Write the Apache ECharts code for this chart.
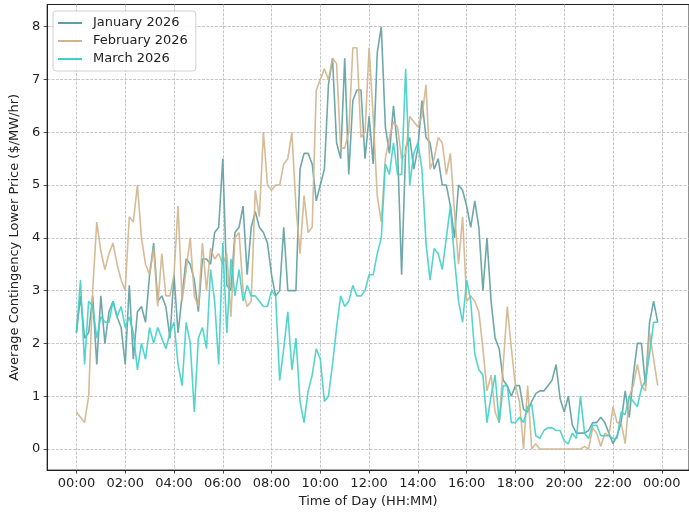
<!DOCTYPE html>
<html lang="en">

<head>
  <meta charset="UTF-8">
  <title>Average Contingency Lower Price</title>
  <style>
    html, body { margin: 0; padding: 0; background: #fff; }
    #chart { width: 689px; height: 513px; }
  </style>
</head>

<body>
  <div id="chart"></div>
  <script src="https://cdn.jsdelivr.net/npm/echarts@6/dist/echarts.min.js"></script>
  <script>
    // 10 minute steps from 00:00
    var stepMinutes = 10;

    var janValues = [
      2.2, 2.9, 2.1, 2.2, 2.9, 1.6, 2.9, 2.0, 2.6, 2.8,
      2.5, 2.3, 1.6, 3.1, 1.7, 2.6, 2.7, 2.4, 3.3, 3.9,
      2.8, 2.9, 2.7, 2.1, 3.3, 2.2, 2.9, 3.6, 3.5, 3.2,
      2.6, 3.6, 3.6, 3.5, 4.1, 4.2, 5.5, 3.1, 3.0, 4.1,
      4.2, 4.6, 3.3, 4.2, 4.5, 4.2, 4.1, 3.9, 3.3, 2.9,
      3.0, 4.2, 3.0, 3.0, 3.0, 5.3, 5.6, 5.6, 5.4, 4.7,
      5.0, 5.3, 6.9, 7.4, 5.8, 5.5, 7.4, 5.2, 6.6, 6.8,
      6.8, 5.5, 6.3, 5.4, 7.5, 8.0, 6.1, 5.6, 6.5, 5.7,
      3.3, 5.7, 5.9, 5.3, 5.7, 6.6, 5.9, 5.8, 5.3, 5.5,
      5.0, 5.0, 4.6, 4.0, 5.0, 4.9, 4.6, 4.2, 4.7, 4.2,
      3.0, 4.0, 2.8, 2.1, 1.9, 1.3, 1.2, 1.0, 1.2, 1.2,
      0.75, 0.7, 0.9, 1.05, 1.1, 1.1, 1.2, 1.3, 1.6, 0.95,
      0.7, 1.0, 0.45, 0.3, 0.3, 0.3, 0.35, 0.5, 0.5, 0.6,
      0.5, 0.3, 0.1, 0.25, 0.5, 1.1, 0.6, 1.4, 2.0, 2.0,
      1.2, 2.4, 2.8, 2.4
    ];

    var febValues = [
      0.7, 0.6, 0.5, 1.0, 3.0, 4.3, 3.75, 3.4, 3.7, 3.9,
      3.5, 3.2, 3.0, 4.4, 4.3, 5.0, 4.0, 3.5, 3.3, 3.8,
      2.7, 3.7, 2.9, 2.9, 3.3, 4.6, 2.8, 3.4, 4.0, 2.9,
      2.7, 3.9, 3.0, 3.8, 3.6, 3.7, 3.5, 3.7, 2.5, 4.0,
      4.1, 3.0, 2.7, 2.8, 4.9, 4.4, 6.0, 5.0, 4.9, 5.0,
      5.0, 5.4, 5.5, 6.0, 4.6, 3.7, 4.8, 4.1, 4.2, 6.8,
      7.0, 7.2, 7.0, 7.4, 7.3, 5.7, 5.7, 6.0, 7.6, 7.6,
      5.9, 6.0, 7.6, 6.3, 4.8, 4.3, 5.5, 5.9, 6.2, 6.1,
      5.5, 5.6, 6.3, 6.2, 6.1, 6.3, 6.9, 5.3, 5.5, 5.9,
      5.8, 5.2, 5.6, 4.5, 3.5, 4.4, 2.8, 2.9, 2.8, 2.6,
      1.9, 1.1, 1.4, 0.7, 0.5, 1.6, 2.7, 1.9, 1.2, 0.9,
      0.0, 1.2, 0.0, 0.1, 0.0, 0.0, 0.0, 0.0, 0.0, 0.0,
      0.0, 0.0, 0.0, 0.0, 0.0, 0.05, 0.0, 0.4, 0.3, 0.05,
      0.3, 0.25, 0.8, 0.5, 0.5, 0.1, 1.0, 1.2, 1.6, 1.2,
      1.1, 2.2, 1.7, 1.2
    ];

    var marValues = [
      2.2, 3.2, 1.6, 2.8, 2.7, 2.1, 2.5, 2.4, 2.4, 2.8,
      2.5, 2.7, 2.3, 2.5, 2.2, 1.5, 2.0, 1.7, 2.3, 2.0,
      2.3, 2.1, 1.9, 2.2, 2.4, 1.6, 1.2, 2.4, 2.0, 0.7,
      2.1, 2.3, 1.9, 3.4, 2.8, 1.6, 3.9, 2.2, 3.6, 2.9,
      3.4, 2.8, 3.1, 2.9, 2.9, 2.8, 2.7, 2.7, 3.0, 2.9,
      1.3, 1.9, 2.6, 1.5, 2.1, 0.9, 0.5, 1.1, 1.4, 1.9,
      1.7, 0.9, 1.0, 1.6, 2.3, 2.9, 2.7, 2.8, 3.1, 2.9,
      2.9, 3.0, 3.3, 3.3, 3.7, 4.0, 5.4, 5.2, 5.8, 5.2,
      5.2, 7.2, 5.0, 5.6, 5.8, 5.3, 3.9, 3.2, 3.8, 3.7,
      3.4, 4.0, 4.6, 3.6, 2.8, 2.4, 3.2, 2.8, 1.8, 1.5,
      1.4, 0.5, 1.0, 1.4, 0.5, 1.2, 1.2, 0.5, 0.5, 0.6,
      0.5, 0.8, 0.85, 0.25, 0.2, 0.35, 0.4, 0.4, 0.35, 0.35,
      0.15, 0.1, 0.3, 0.2, 1.0, 0.3, 0.2, 0.45, 0.45, 0.25,
      0.25, 0.25, 0.2, 0.2, 0.7, 0.65, 1.0, 0.9, 0.8, 1.15,
      1.3, 1.8, 2.4, 2.4
    ];

    var seriesNames = ['January 2026', 'February 2026', 'March 2026'];
    var seriesColors = ['#5f9ea0', '#d2b48c', '#40d0c8'];

    var xTicks = [0, 120, 240, 360, 480, 600, 720, 840, 960, 1080, 1200, 1320, 1440];
    var yTicks = [0, 1, 2, 3, 4, 5, 6, 7, 8];

    function toPairs(values) {
      return values.map(function (v, i) {
        return [i * stepMinutes, v];
      });
    }

    function hhmm(m) {
      var h = Math.floor(m / 60) % 24;
      var mm = m % 60;
      return (h < 10 ? '0' : '') + h + ':' + (mm < 10 ? '0' : '') + mm;
    }

    var myChart = echarts.init(document.getElementById('chart'), null, { renderer: 'canvas' });

    var font = 'DejaVu Sans';
    var gridLine = {
      show: true,
      lineStyle: { color: '#b8b8b8', width: 0.8, type: [3, 1.3] }
    };

    var allValues = [janValues, febValues, marValues];

    var option = {
      backgroundColor: '#fff',
      animation: false,
      textStyle: { fontFamily: font },
      grid: {
        left: 47,
        right: -6,
        top: 4.5,
        bottom: 42,
        show: true,
        borderColor: '#222',
        borderWidth: 1
      },
      legend: {
        orient: 'vertical',
        left: 53,
        top: 11,
        padding: [5, 8, 5, 5],
        itemGap: 4,
        itemWidth: 24,
        itemHeight: 2,
        icon: 'rect',
        backgroundColor: 'rgba(255,255,255,0.85)',
        borderColor: '#d0d0d0',
        borderWidth: 1,
        borderRadius: 3,
        textStyle: {
          fontFamily: font,
          fontSize: 13,
          color: '#222',
          lineHeight: 14,
          padding: [0, 0, 0, 6]
        },
        data: seriesNames
      },
      xAxis: {
        type: 'value',
        min: -72,
        max: 1507,
        name: 'Time of Day (HH:MM)',
        nameLocation: 'middle',
        nameGap: 22,
        nameTextStyle: { fontFamily: font, fontSize: 13, color: '#222' },
        axisLine: { show: true, onZero: false, lineStyle: { color: '#222', width: 1 } },
        axisTick: {
          show: true,
          length: 3.5,
          customValues: xTicks,
          lineStyle: { color: '#222', width: 0.8 }
        },
        axisLabel: {
          customValues: xTicks,
          margin: 7,
          fontFamily: font,
          fontSize: 13,
          color: '#222',
          formatter: function (v) { return hhmm(v); }
        },
        splitLine: gridLine
      },
      yAxis: {
        type: 'value',
        min: -0.4,
        max: 8.42,
        name: 'Average Contingency Lower Price ($/MW/hr)',
        nameLocation: 'middle',
        nameGap: 21,
        nameTextStyle: { fontFamily: font, fontSize: 13, color: '#222' },
        axisLine: { show: true, onZero: false, lineStyle: { color: '#222', width: 1 } },
        axisTick: {
          show: true,
          length: 3.5,
          customValues: yTicks,
          lineStyle: { color: '#222', width: 0.8 }
        },
        axisLabel: {
          customValues: yTicks,
          margin: 7,
          fontFamily: font,
          fontSize: 13,
          color: '#222'
        },
        splitLine: gridLine
      },
      series: seriesNames.map(function (name, k) {
        return {
          name: name,
          type: 'line',
          data: toPairs(allValues[k]),
          showSymbol: false,
          symbol: 'none',
          color: seriesColors[k],
          lineStyle: { width: 1.6, color: seriesColors[k], opacity: 0.9 },
          emphasis: { disabled: true }
        };
      })
    };

    myChart.setOption(option);
  </script>
</body>

</html>
